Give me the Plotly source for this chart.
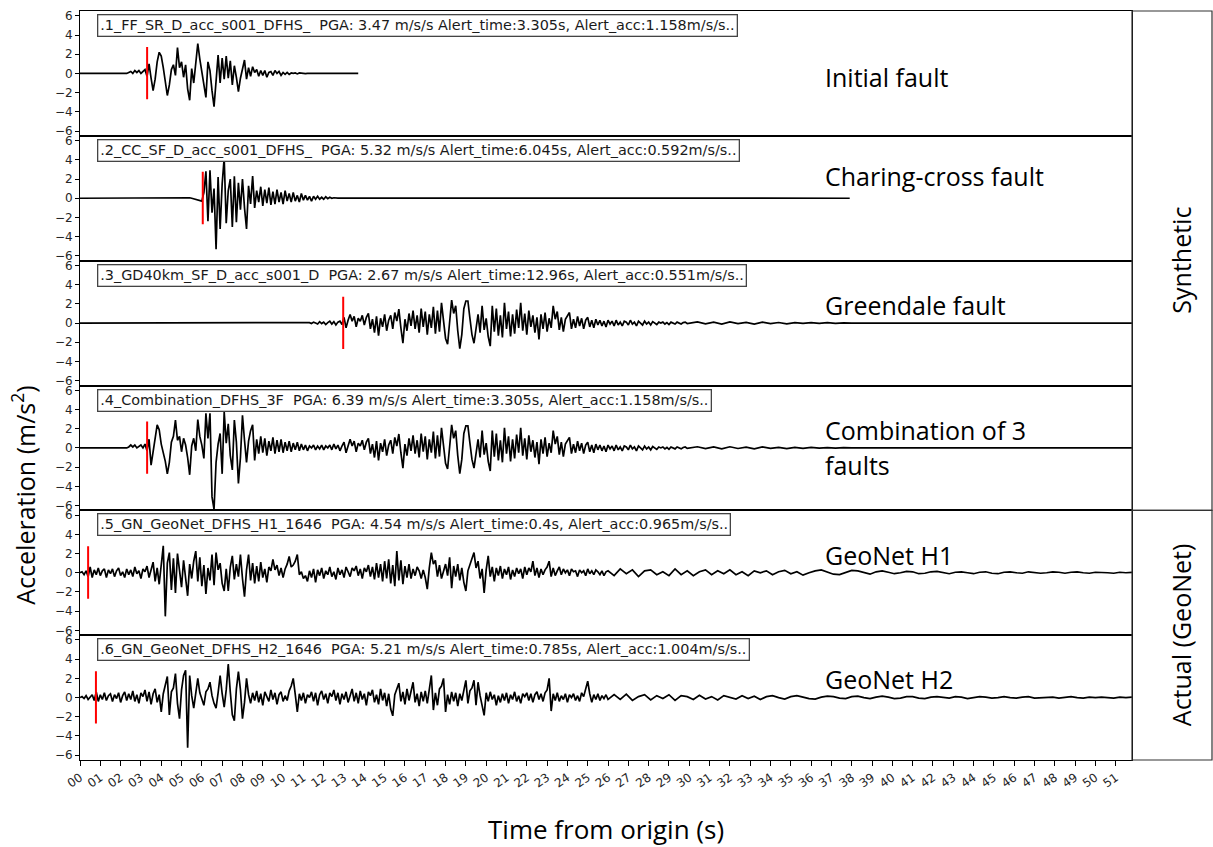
import numpy as np
import plotly.graph_objects as go
from plotly.subplots import make_subplots

# ---------------------------------------------------------------------------
# Accelerograms (m/s^2), sampled in segments of (start time, step, values)
# ---------------------------------------------------------------------------
P1_VALUES = [
    0.0, 0.1, 0.2, 0.0, 0.3, 0.1, 0.3, 0.0, 0.2, 0.4,
    -0.3, 1.0, -0.5, -1.8, -0.6, 1.2, 2.2, 1.8, 0.6, -0.8,
    -2.3, -1.2, 0.4, 0.9, -0.2, 2.7, 0.6, 1.2, -0.4, 0.9,
    -1.6, -2.8, 0.5, -1.0, 0.8, 3.1, 1.5, 0.2, -1.2, -2.5,
    1.2, 0.3, -1.8, -3.47, -0.8, 1.9, -1.0, 1.6, -0.6, 1.8,
    -0.5, 1.3, -1.2, 0.8, -0.4, -1.9, -0.5, 0.6, 1.4, -0.6,
    0.6, -0.3, 0.7, 0.1, 0.4, -0.3, 0.3, -0.2, 0.3, -0.4,
    0.1, 0.2, -0.2, 0.3, 0.0, 0.2, -0.2, 0.1, -0.1, 0.1,
    -0.1, 0.05, 0.0, 0.05, -0.05, 0.05, 0.0, 0.03, -0.03, 0.0,
]

P2_VALUES = [
    0.05, 0.08, 0.1, 0.1, 0.08, 0.1, 0.05, 0.0, -0.05, -0.1,
    -0.15, -0.25, -0.3, 0.6, 2.8, -2.4, 2.9, -1.5, 1.0, -5.32,
    2.2, -3.2, 1.5, 4.2, -2.6, 0.8, 2.0, -3.0, 2.3, -2.5,
    1.6, -1.2, 2.0, -1.0, -3.2, 1.3, -0.6, 2.3, -1.0, 0.8,
    -0.4, 1.2, -0.8, 0.9, -0.5, 1.1, -0.7, 0.7, -0.6, 0.9,
    -0.4, 0.6, -0.6, 0.8, -0.3, 0.5, -0.4, 0.6, -0.3, 0.3,
    -0.4, 0.5, -0.2, 0.3, -0.2, 0.2, -0.3, 0.2, -0.1, 0.2,
    -0.1, 0.1, -0.1, 0.15, -0.05, 0.1, 0.0, 0.05, 0.0, 0.02,
]

P3_LEAD = [
    0.05, -0.05, 0.1, 0.0, -0.1, 0.15, -0.05, 0.1, -0.15, 0.05,
    0.2, -0.1, 0.15, -0.2, 0.1, 0.2, -0.15,
]

P3_MAIN = [
    0.6, -0.5, 0.3, 0.9, 0.2, 0.7, -0.4, 0.5, 0.2, 0.8,
    -0.2, 0.6, 1.0, -0.6, 0.4, -1.0, 0.7, -1.3, 0.5, -0.4,
    0.9, -0.8, 0.3, 0.8, -0.6, 1.1, 0.2, 1.45, -0.5, -2.1,
    0.4, -0.8, 1.0, -0.3, 1.3, -0.6, 0.8, -1.0, 1.5, -0.4,
    1.2, -1.2, 0.9, -0.5, 1.7, -1.1, 1.3, -0.9, 2.1, 0.3,
    -1.6, -2.2, 0.6, 2.4, 1.0, 1.8, -0.8, -2.67, -1.2, 1.5,
    2.3, 2.3, 0.5, -1.2, -2.1, -0.6, 0.9, -1.0, 1.8, -0.7,
    0.5, -1.4, -2.4, 1.8, -0.9, 1.5, -1.3, 0.8, -1.5, 2.1,
    -0.6, 1.2, -1.4, 0.9, -1.1, 1.4, -0.5, 2.1, -0.8, 1.0,
    -1.2, 1.3, -0.4, 0.8, -1.0, 0.6, -1.7, 0.9, -0.6, 1.1,
    -0.9, 0.5, -0.5, 1.8, 0.4, 1.2, -0.7, 0.6, -0.9, 0.4,
    0.8, 1.1, -0.6, 0.4, -0.5, 0.7, -0.3, 0.5, -0.6, 0.3,
    0.6, -0.4, 0.3, -0.5, 0.4, -0.2, 0.3, -0.3, 0.2, -0.4,
    0.3, -0.1, 0.2, -0.3, 0.3, -0.2, 0.1, -0.3, 0.2, 0.1,
    -0.2, 0.3, -0.1, 0.1, -0.3, 0.2, 0.0, -0.2, 0.2, -0.1,
    0.1, -0.2, 0.15, 0.0, -0.15, 0.1, 0.0, 0.1, -0.1, 0.05,
    -0.15, 0.1, 0.0, -0.1, 0.1, 0.0, -0.1, 0.05, 0.1, -0.05,
    0.0,
]

P3_TAIL = [
    0.12, -0.08, 0.1, -0.1, 0.12, -0.06, 0.08, -0.1, 0.1, -0.05,
    0.06, -0.08, 0.05, -0.04, 0.05, -0.03, 0.04, -0.02, 0.03, 0.0,
]

P4_EARLY = [
    0.0, 0.1, 0.3, 0.1, 0.3, 0.0, 0.2, 0.3, 0.0, 0.4,
    -0.3, 0.9, -1.8, -0.6, 1.0, 2.4, 1.9, 0.4, -0.5, -1.4,
    -2.7, -1.5, 0.6, 1.2, 2.9, 0.8, 1.2, -0.4, 1.0, 0.3,
    -1.0, -2.8, 0.2, 1.0, -0.3, 2.95, 1.2, 0.3, -1.1, 3.6,
    1.0, 3.6, -5.1, -6.39, -1.5, 0.4, 1.5, -2.7, 3.75, 0.5,
    2.5, -0.8, -2.3, 2.9, 0.6, -3.7, -1.0, 3.4, 0.8, -1.5,
    0.7, 1.8, 2.4, -1.3, 0.9, -0.6, 1.2, -0.5, 1.0, -0.8,
    0.7, -0.3, 1.1, -0.6, 0.8, -0.4, 0.9, -0.5, 0.6, -0.3,
    0.7, -0.4, 0.5, -0.2, 0.6, -0.3, 0.4, -0.2, 0.3, -0.3,
    0.2, 0.0, 0.3, -0.2, 0.2, -0.1, 0.3, -0.2, 0.2, 0.0,
    0.3, -0.2, 0.4, -0.1, 0.3, -0.3, 0.2,
]

P5_MAIN = [
    0.0, 0.1, -0.2, 0.2, -0.4, 0.6, -0.5, 0.3, -0.2, 0.5,
    -0.3, 0.2, 0.4, -0.5, 0.3, -0.1, 0.4, -0.4, 0.2, 0.5,
    -0.3, 0.1, -0.5, 0.4, -0.2, 0.3, -0.4, 0.6, -0.1, 0.2,
    -0.6, 0.4, 0.1, 0.7, -0.5, 0.3, 1.1, -0.9, 0.5, -1.2,
    0.9, 2.8, -4.54, 1.0, 2.1, -1.8, 1.5, -2.1, 2.0, 0.2,
    -1.5, 1.3, -0.8, -2.4, 0.9, -0.6, 1.2, 2.25, -0.9, 1.6,
    -1.4, 0.8, -2.2, 0.5, -0.8, 1.9, -1.3, 2.1, 0.3, 1.0,
    -1.1, -1.9, 0.4, -1.9, 0.6, 1.75, -0.7, 0.9, -0.4, 1.9,
    -0.6, -2.5, 0.3, 1.9, -0.8, 1.0, -1.1, 0.7, -0.9, 1.1,
    -0.5, 0.4, -1.0, 0.6, 0.2, 1.4, 0.3, 0.8, -0.3, 0.5,
    -0.5, 0.4, 0.9, 1.7, 0.6, 0.8, 1.2, 1.9, -0.2, 0.1,
    -0.6, -0.3, -0.9, 0.2, -0.5, 0.4, -1.0, 0.3, -0.3, 0.5,
    -0.6, 0.2, -0.2, 0.6, -0.4, 0.1, -0.7, 0.5, -0.2, 0.3,
    -0.5, 0.6, 0.1, -0.4, 0.5, 0.2, 0.7, -0.3, 0.4, -0.6,
    0.5, 0.1, 0.8, -0.4, 0.6, -0.7, 1.0, -0.5, 0.9, -0.9,
    1.2, -0.6, 1.4, -1.1, 0.8, -1.4, 2.25, -0.8, 1.3, -1.2,
    0.7, -0.5, 0.9, -0.6, 0.4, -0.3, 0.6, 0.2, -0.6, 0.3,
    -0.5, -1.7, 0.5, 2.1, 0.9, 1.3, -0.4, 0.8, -0.6, 0.3,
    0.9, -0.3, 1.6, -1.6, 0.7, -0.4, 0.9, -0.8, 0.5, -1.0,
    -1.9, 0.2, 0.8, 1.3, 2.1, 0.5, 1.2, -0.6, 0.4, -2.1,
    0.3, 1.75, -0.4, 0.6, -0.9, 0.5, -0.3, 0.7, -0.6, 0.4,
    -0.2, 0.6, -0.7, 0.3, -0.4, 0.5, -0.1, 0.4, -0.6, 0.6,
    -0.2, 0.5, 0.1, 1.2, -0.3, 0.5, -0.5, 0.4, -0.2, 0.3,
    0.6, 1.2, -0.4, 0.5, -0.3, 0.2, 0.6, -0.2, 0.4, 0.0,
    0.3, -0.3, 0.4, 0.1, 0.2, -0.4, 0.3, 0.0, 0.2, -0.3,
    0.4, -0.1, 0.2, -0.2, 0.3, 0.1, -0.2, 0.2, -0.3, 0.1,
    0.2,
]

P5_TAIL = [
    -0.3, 0.4, -0.1, 0.3, -0.4, 0.2, 0.3, -0.2, 0.1, -0.3,
    0.4, -0.2, 0.2, -0.3, 0.1, 0.3, -0.2, 0.2, -0.1, 0.3,
    -0.2, 0.1, -0.3, 0.2, 0.0, 0.2, -0.2, 0.1, 0.25, -0.1,
    0.1, -0.25, 0.0, 0.2, 0.3, 0.1, -0.15, -0.2, 0.05, 0.25,
    0.2, 0.0, -0.15, 0.1, 0.2, 0.05, -0.1, 0.0, 0.15, 0.1,
    -0.1, -0.05, 0.1, 0.15, 0.0, -0.1, 0.05, 0.1, 0.0, -0.1,
    0.05, 0.1, -0.05, -0.1, 0.05, 0.1, 0.0, -0.05, 0.1, 0.05,
    -0.05, 0.0, 0.1, 0.05, -0.05, 0.05, 0.1, 0.0, -0.05, 0.05,
    0.05, 0.0, -0.05, 0.05, 0.0, 0.05,
]

P6_MAIN = [
    0.0, 0.1, -0.1, 0.2, -0.2, 0.1, 0.3, -0.3, 0.6, -0.4,
    0.3, -0.2, 0.5, -0.3, 0.2, 0.4, -0.4, 0.3, -0.1, 0.5,
    -0.5, 0.2, 0.6, -0.3, 0.4, -0.2, 0.7, -0.4, 0.3, -0.6,
    0.5, 0.1, 0.8, -0.4, 0.6, -0.7, 0.4, 0.9, -0.5, 0.3,
    -1.5, 0.4, 1.2, 2.2, -1.8, 0.6, 1.0, 2.5, -0.6, -2.2,
    0.8, 2.3, 2.85, -5.21, 2.3, 0.2, -1.1, 0.7, 2.0, 0.5,
    -0.3, -0.8, 0.6, 0.9, 1.6, 0.2, -0.6, -1.1, 0.5, 2.3,
    0.4, -1.0, 0.8, 3.5, 0.6, -1.8, -2.4, 0.9, 2.7, 0.8,
    -2.2, -0.5, 2.0, 0.3, -0.6, 0.5, -0.3, 0.7, -0.5, 0.4,
    -0.8, 0.6, 0.1, -0.4, 0.8, -0.2, 0.5, -0.7, 0.3, 0.6,
    -0.4, 0.2, -0.3, 0.7, 1.2, 2.0, 0.3, -1.5, 0.4, -0.3,
    0.5, -0.6, 0.3, 0.0, 0.6, -0.4, 0.5, -0.8, 0.3, 0.7,
    -0.2, 0.4, -0.6, 0.5, 0.1, 0.8, -0.3, 0.5, -0.7, 0.4,
    -0.2, 0.6, -0.5, 0.3, 0.9, -0.4, 0.5, -0.6, 0.7, -0.2,
    0.4, -0.8, 0.6, 0.2, 0.8, -0.5, 0.3, -0.7, 0.9, -0.3,
    0.5, -0.9, 0.4, -1.2, -1.9, 0.3, 0.8, 1.5, -0.4, 0.6,
    -0.7, 0.9, -0.3, 0.8, 1.6, -0.5, 0.4, -0.9, 0.6, -0.4,
    0.7, -0.6, 1.1, 2.3, -1.3, 0.5, -0.8, 0.9, 1.2, 2.0,
    -1.5, 0.3, -0.7, 0.6, -0.4, 0.5, -0.9, 0.4, -0.3, 0.9,
    1.8, -0.6, 0.7, 1.0, 1.8, -0.8, 1.6, 0.2, -0.9, -1.85,
    0.5, -0.4, 0.6, -0.2, 0.3, -0.8, 0.2, -0.5, 0.4, -0.3,
    0.5, -0.6, 0.3, -0.2, 0.6, -0.4, 0.2, -0.6, 0.4, 0.1,
    0.5, -0.3, 0.4, -0.5, 0.3, 0.6, -0.2, 0.4, -0.4, 0.5,
    0.8, 2.0, -1.4, 0.4, -0.3, 0.5, -0.4, 0.2, -0.2, 0.4,
    -0.5, 0.3, 0.0, 0.4, -0.3, 0.2, -0.4, 0.5, 0.1, 0.9,
    1.7, 0.4, -0.5, 0.3, -0.2, 0.4, -0.3, 0.2, -0.1, 0.3,
    -0.2,
]

P6_TAIL = [
    0.3, -0.2, 0.35, -0.3, 0.1, 0.3, -0.25, 0.2, -0.1, 0.3,
    -0.3, 0.2, 0.1, -0.2, 0.25, -0.15, 0.1, -0.25, 0.2, 0.05,
    -0.15, 0.2, -0.1, 0.15, -0.2, 0.1, 0.2, 0.0, -0.15, 0.1,
    0.2, 0.05, -0.1, -0.15, 0.05, 0.15, 0.1, -0.05, -0.1, 0.1,
    0.15, 0.0, -0.1, 0.05, 0.15, 0.05, -0.1, -0.05, 0.1, 0.1,
    -0.05, -0.1, 0.05, 0.1, 0.0, -0.05, 0.1, 0.05, -0.1, 0.0,
    0.1, 0.05, -0.05, 0.0, 0.1, 0.0, -0.05, 0.05, 0.1, -0.05,
    0.0, 0.05, 0.05, -0.05, 0.0, 0.1, 0.0, -0.05, 0.05, 0.0,
    0.05, 0.0, -0.05, 0.05, 0.0, 0.05,
]

SEGMENTS = [
    [(2.3, 0.1, P1_VALUES)],
    [(4.8, 0.1, P2_VALUES)],
    [(11.3, 0.1, P3_LEAD), (13.0, 0.1, P3_MAIN), (30.4, 0.4, P3_TAIL)],
    [(2.3, 0.1, P4_EARLY), (13.0, 0.1, P3_MAIN), (30.4, 0.4, P3_TAIL)],
    [(0.0, 0.1, P5_MAIN), (26.3, 0.3, P5_TAIL)],
    [(0.0, 0.1, P6_MAIN), (26.3, 0.3, P6_TAIL)],
]
RECORD_END = [13.7, 37.9, 51.8, 51.8, 51.8, 51.8]

# Record metadata shown in each panel's caption
RECORD_NAMES = [
    ".1_FF_SR_D_acc_s001_DFHS_",
    ".2_CC_SF_D_acc_s001_DFHS_",
    ".3_GD40km_SF_D_acc_s001_D",
    ".4_Combination_DFHS_3F",
    ".5_GN_GeoNet_DFHS_H1_1646",
    ".6_GN_GeoNet_DFHS_H2_1646",
]
PGA = ["3.47", "5.32", "2.67", "6.39", "4.54", "5.21"]
ALERT_TIME = ["3.305", "6.045", "12.96", "3.305", "0.4", "0.785"]
ALERT_ACC = ["1.158", "0.592", "0.551", "1.158", "0.965", "1.004"]

PANEL_LABELS = [
    ["Initial fault"],
    ["Charing-cross fault"],
    ["Greendale fault"],
    ["Combination of 3", "faults"],
    ["GeoNet H1"],
    ["GeoNet H2"],
]
PANEL_LABEL_Y = [[-0.4], [2.3], [1.9], [1.85, -1.8], [1.9], [1.95]]

X_TICK_LABELS = [
    "00", "01", "02", "03", "04", "05", "06", "07", "08", "09",
    "10", "11", "12", "13", "14", "15", "16", "17", "18", "19",
    "20", "21", "22", "23", "24", "25", "26", "27", "28", "29",
    "30", "31", "32", "33", "34", "35", "36", "37", "38", "39",
    "40", "41", "42", "43", "44", "45", "46", "47", "48", "49",
    "50", "51",
]
Y_TICKS = [-6, -4, -2, 0, 2, 4, 6]
Y_TICK_LABELS = ["\u22126", "\u22124", "\u22122", "0", "2", "4", "6"]

X_MAX = 51.8
Y_LIM = 6.5
ALERT_SPAN = (-2.7, 2.75)


def build_series(segments, end):
    t, a = [], []
    for t0, dt, vals in segments:
        t.extend((t0 + dt * np.arange(len(vals))).tolist())
        a.extend(vals)
    if t[0] > 0:
        t.insert(0, 0.0)
        a.insert(0, 0.0)
    if t[-1] < end:
        t.append(end)
        a.append(0.0)
    return t, a


N = len(SEGMENTS)
fig = make_subplots(rows=N, cols=1, shared_xaxes=True, vertical_spacing=0)

TEXT_FONT = "Open Sans, Noto Sans, sans-serif"
TICK_FONT = dict(family="DejaVu Sans", size=12, color="#262626")
CAPTION_FONT = dict(family="DejaVu Sans", size=14.4, color="#1a1a1a")

for i in range(N):
    row = i + 1
    t, a = build_series(SEGMENTS[i], RECORD_END[i])
    fig.add_trace(go.Scatter(x=t, y=a, mode="lines",
                             line=dict(color="black", width=1.7),
                             showlegend=False, hoverinfo="skip"),
                  row=row, col=1)
    at = float(ALERT_TIME[i])
    fig.add_trace(go.Scatter(x=[at, at], y=list(ALERT_SPAN), mode="lines",
                             line=dict(color="#ff0000", width=2),
                             showlegend=False, hoverinfo="skip"),
                  row=row, col=1)

    suffix = "" if row == 1 else str(row)
    caption = (f"{RECORD_NAMES[i]} \u00a0PGA: {PGA[i]} m/s/s "
               f"Alert_time:{ALERT_TIME[i]}s, Alert_acc:{ALERT_ACC[i]}m/s/s..")
    fig.add_annotation(text=caption, xref=f"x{suffix} domain", yref=f"y{suffix} domain",
                       x=0.016, y=1, xanchor="left", yanchor="top", yshift=-3,
                       showarrow=False, font=CAPTION_FONT,
                       bordercolor="#444", borderwidth=1.3, borderpad=2,
                       bgcolor="white")
    for label, ly in zip(PANEL_LABELS[i], PANEL_LABEL_Y[i]):
        fig.add_annotation(text=label, xref=f"x{suffix} domain", yref=f"y{suffix}",
                           x=(823 - 80) / 1052, y=ly, xanchor="left", yanchor="middle",
                           showarrow=False,
                           font=dict(family=TEXT_FONT, size=25, color="black"))

    fig.update_yaxes(row=row, col=1, range=[-Y_LIM, Y_LIM], tickvals=Y_TICKS,
                     ticktext=Y_TICK_LABELS, ticks="outside", ticklen=4,
                     tickcolor="black", tickfont=TICK_FONT, showgrid=False,
                     zeroline=False, showline=True, mirror=True,
                     linecolor="black", linewidth=1)
    fig.update_xaxes(row=row, col=1, range=[0, X_MAX], showgrid=False,
                     zeroline=False, showline=True, mirror=True,
                     linecolor="black", linewidth=1,
                     tickvals=list(range(len(X_TICK_LABELS))), ticktext=X_TICK_LABELS,
                     ticks="outside" if row == N else "", ticklen=5, tickcolor="black",
                     showticklabels=(row == N), tickangle=-35, tickfont=TICK_FONT)

# Side brackets grouping the synthetic and recorded panels
box_right = (1212 - 80) / 1052
for y0, y1, label in [(2 / N, 1.0, "Synthetic"), (0.0, 2 / N, "Actual (GeoNet)")]:
    fig.add_shape(type="rect", xref="paper", yref="paper", x0=1.0, x1=box_right,
                  y0=y0, y1=y1, line=dict(color="#333", width=1.2))
    fig.add_annotation(text=label, xref="paper", yref="paper",
                       x=(1181 - 80) / 1052, y=(y0 + y1) / 2, textangle=-90,
                       xanchor="center", yanchor="middle", showarrow=False,
                       font=dict(family=TEXT_FONT, size=25, color="black"))

fig.add_annotation(text="Acceleration (m/s<sup>2</sup>)", xref="paper", yref="paper",
                   x=(24 - 80) / 1052, y=(760 - 495) / 751, textangle=-90,
                   xanchor="center", yanchor="middle", showarrow=False,
                   font=dict(family=TEXT_FONT, size=25, color="black"))
fig.add_annotation(text="Time from origin (s)", xref="paper", yref="paper",
                   x=0.5, y=(760 - 829) / 751, xanchor="center", yanchor="middle",
                   showarrow=False,
                   font=dict(family=TEXT_FONT, size=26, color="black"))

fig.update_layout(width=1213, height=847, plot_bgcolor="white", paper_bgcolor="white",
                  margin=dict(l=80, r=81, t=9, b=87), showlegend=False)

fig.write_html("out.html")
